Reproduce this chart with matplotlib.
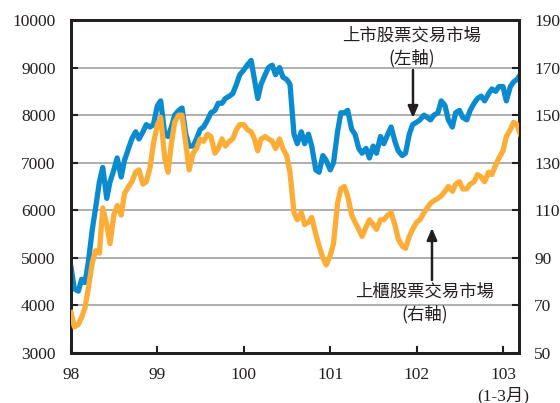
import numpy as np
import pandas as pd
import matplotlib
matplotlib.use("Agg")
import matplotlib.pyplot as plt

# ---------------- data (semi-monthly readings, Jan 2009 .. mid-Mar 2014) ----------------
dates = pd.date_range("2009-01-01", "2014-03-15", freq="SMS")

taiex = [  # 上市股票交易市場 (left axis)
    4800, 4350, 4300, 4550, 4480, 4900, 5600, 6050, 6600, 6900,
    6250, 6600, 6850, 7100, 6700, 7050, 7300, 7500, 7650, 7500,
    7650, 7800, 7750, 7800, 8200, 8300, 7600, 7550, 7750, 8000,
    8100, 8150, 7600, 7350, 7350, 7500, 7700, 7750, 7900, 8050,
    8100, 8250, 8250, 8350, 8400, 8450, 8650, 8850, 8950, 9050,
    9150, 8750, 8350, 8650, 8850, 9000, 9050, 8850, 9000, 8800,
    8750, 8650, 7600, 7400, 7650, 7400, 7600, 7350, 6850, 6800,
    7150, 7050, 6850, 7000, 7650, 8050, 8050, 8100, 7700, 7600,
    7300, 7200, 7300, 7100, 7350, 7200, 7550, 7400, 7600, 7750,
    7450, 7250, 7150, 7200, 7600, 7800, 7850, 7900, 8000, 7950,
    7900, 8000, 8050, 8300, 8200, 7900, 7750, 8050, 8100, 7950,
    7900, 8100, 8250, 8350, 8400, 8300, 8450, 8550, 8500, 8600,
    8600, 8300, 8600, 8700, 8750, 8850,
]

otc = [  # 上櫃股票交易市場 (right axis)
    67, 61, 62, 65, 69, 77, 88, 93, 92, 111,
    104, 96, 108, 112, 108, 117, 120, 122, 126, 127,
    121, 122, 128, 138, 146, 149, 132, 126, 138, 147,
    150, 150, 138, 127, 134, 136, 140, 139, 142, 141,
    134, 136, 140, 137, 139, 140, 144, 146, 146, 144,
    143, 140, 135, 140, 141, 140, 139, 136, 140, 136,
    133, 126, 109, 106, 109, 104, 105, 107, 100, 95,
    90, 87, 91, 96, 113, 119, 120, 116, 108, 105,
    102, 99, 103, 106, 104, 102, 106, 106, 108, 109,
    104, 98, 95, 94, 99, 102, 105, 106, 109, 111,
    113, 114, 115, 116, 118, 120, 118, 121, 122, 119,
    119, 121, 122, 125, 124, 122, 126, 125, 129, 132,
    135, 141, 144, 147, 146, 142,
]

year_ticks = [98, 99, 100, 101, 102, 103]
year_labels = ["98", "99", "100", "101", "102", "103\n(1-3月)"]
left_ticks = [3000, 4000, 5000, 6000, 7000, 8000, 9000, 10000]
right_ticks = [50, 70, 90, 110, 130, 150, 170, 190]

label_left = "上市股票交易市場"
label_left_sub = "(左軸)"
label_right = "上櫃股票交易市場"
label_right_sub = "(右軸)"

# ROC year as decimal
t = np.array([(d.year - 1911) + (d.dayofyear - 1) / (366 if d.is_leap_year else 365) for d in dates])

# ---------------- style ----------------
serif = ["Liberation Serif", "Noto Sans CJK TC"]
cjk = ["Noto Sans CJK TC", "DejaVu Sans"]
blue = "#0a8bd0"
orange = "#fbad38"
txt = "#231f20"

fig = plt.figure(figsize=(5.6, 4.03), dpi=100)
ax = fig.add_axes([71 / 560, 50 / 403, 448 / 560, 333 / 403])
ax2 = ax.twinx()

ax.plot(t, taiex, color=blue, lw=3.8, solid_joinstyle="round", zorder=3)
ax2.plot(t, otc, color=orange, lw=3.8, solid_joinstyle="round", zorder=3)

ax.set_xlim(98, 103.185)
ax.set_ylim(3000, 10000)
ax2.set_ylim(50, 190)

ax.set_yticks(left_ticks)
ax2.set_yticks(right_ticks)
ax.set_xticks(year_ticks)
ax.set_xticklabels(year_labels, linespacing=1.25)

ax.yaxis.grid(True, color="#999999", lw=1.1)
ax.set_axisbelow(True)

for a in (ax, ax2):
    for s in a.spines.values():
        s.set_linewidth(2.0)
        s.set_color("#231f20")

ax.tick_params(axis="y", direction="in", length=5, width=1.5, pad=11, labelsize=12.5,
               colors=txt, left=True, right=False)
ax.tick_params(axis="x", direction="in", length=5, width=1.5, pad=10, labelsize=12.5,
               colors=txt, top=False)
ax2.tick_params(axis="y", direction="in", length=5, width=1.5, pad=11, labelsize=12.5,
                colors=txt, right=True, left=False)

for lab in ax.get_yticklabels() + ax.get_xticklabels() + ax2.get_yticklabels():
    lab.set_fontfamily(serif)

# ---------------- annotations (left-axis data coords) ----------------
ax.text(101.947, 9663, label_left, ha="center", va="center", fontsize=12.5,
        family=cjk, color=txt, zorder=5)
ax.text(101.947, 9191, label_left_sub, ha="center", va="center", fontsize=12.5,
        family=cjk, color=txt, zorder=5)
ax.annotate("", xy=(101.958, 7940), xytext=(101.958, 8949),
            arrowprops=dict(arrowstyle="-|>,head_length=0.7,head_width=0.3",
                            color=txt, lw=1.8, shrinkA=0, shrinkB=0), zorder=5)

ax.text(102.097, 4282, label_right, ha="center", va="center", fontsize=12.5,
        family=cjk, color=txt, zorder=5)
ax.text(102.097, 3820, label_right_sub, ha="center", va="center", fontsize=12.5,
        family=cjk, color=txt, zorder=5)
ax.annotate("", xy=(102.178, 5628), xytext=(102.178, 4535),
            arrowprops=dict(arrowstyle="-|>,head_length=0.7,head_width=0.3",
                            color=txt, lw=1.8, shrinkA=0, shrinkB=0), zorder=5)

fig.savefig("out.png", dpi=100)
